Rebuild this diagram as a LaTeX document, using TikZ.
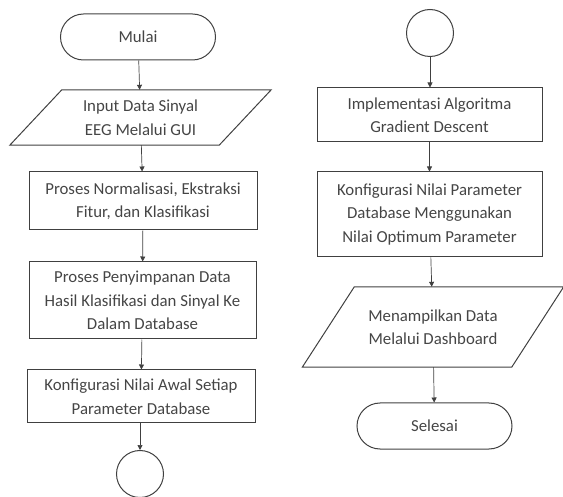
\documentclass[tikz,border=0pt]{standalone}
\usepackage{fontspec}
\setmainfont{Carlito}
\usetikzlibrary{arrows.meta}
\definecolor{ln}{HTML}{404040}
\definecolor{tx}{HTML}{454545}
\tikzset{
  every node/.style={font=\fontsize{16.8}{23.5}\selectfont, text=tx, align=center, inner sep=0pt},
  proc/.style={draw=ln, line width=1pt, rectangle},
  term/.style={draw=ln, line width=1pt, rectangle, rounded corners=23pt, minimum width=155pt, minimum height=46pt},
  conn/.style={draw=ln, line width=1pt, circle, minimum size=47pt},
  io/.style={rectangle, minimum width=209pt},
  para/.style={draw=ln, line width=1pt},
  flow/.style={draw=ln, line width=0.7pt, -{Triangle[length=5pt,width=5pt]}}
}
\begin{document}
\begin{tikzpicture}[x=1pt,y=-1pt]
\useasboundingbox (0,0) rectangle (563,497);
% left column
\node[term] (mulai) at (138,37) {Mulai};
\node[io, minimum height=55pt] (in) at (140.5,117.5) {Input Data Sinyal\\EEG Melalui GUI};
\draw[para] ([xshift=26pt]in.north west) -- ([xshift=26pt]in.north east) -- ([xshift=-26pt]in.south east) -- ([xshift=-26pt]in.south west) -- cycle;
\node[proc, minimum width=228pt, minimum height=58pt] (p1) at (143,201) {Proses Normalisasi, Ekstraksi\\Fitur, dan Klasifikasi};
\node[proc, minimum width=227pt, minimum height=77pt] (p2) at (142.5,300.5) {Proses Penyimpanan Data\\Hasil Klasifikasi dan Sinyal Ke\\Dalam Database};
\node[proc, minimum width=228pt, minimum height=53pt] (p3) at (141,396.5) {Konfigurasi Nilai Awal Setiap\\Parameter Database};
\node[conn] (c1) at (140,474) {};
% right column
\node[conn] (c2) at (430,33) {};
\node[proc, minimum width=225pt, minimum height=54pt] (r1) at (429.5,115) {Implementasi Algoritma\\Gradient Descent};
\node[proc, minimum width=225pt, minimum height=85pt] (r2) at (429.5,214.5) {Konfigurasi Nilai Parameter\\Database Menggunakan\\Nilai Optimum Parameter};
\node[io, minimum height=80pt] (out) at (433,327) {Menampilkan Data\\Melalui Dashboard};
\draw[para] ([xshift=26pt]out.north west) -- ([xshift=26pt]out.north east) -- ([xshift=-26pt]out.south east) -- ([xshift=-26pt]out.south west) -- cycle;
\node[term] (selesai) at (434.5,426) {Selesai};
% connectors
\draw[flow] (mulai) -- (in);
\draw[flow] (in) -- (p1);
\draw[flow] (p1) -- (p2);
\draw[flow] (p2) -- (p3);
\draw[flow] (p3.south -| c1) -- (c1);
\draw[flow] (c2) -- (r1.north -| c2);
\draw[flow] (r1) -- (r2);
\draw[flow] (r2) -- (out);
\draw[flow] (out) -- (selesai);
\end{tikzpicture}
\end{document}
